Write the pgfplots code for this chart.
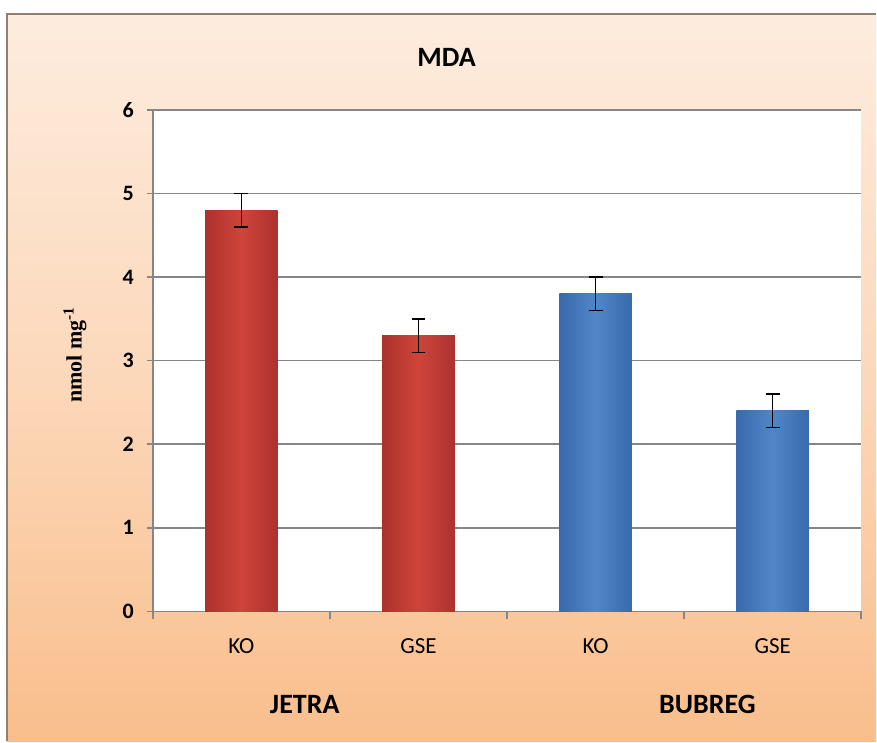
\documentclass[border=0pt]{standalone}
\usepackage{pgfplots}
\pgfplotsset{compat=1.18}
\usepackage{fontspec}
\setmainfont{Carlito}
\newfontfamily\serifb{Liberation Serif}
\definecolor{bgtop}{RGB}{253,236,222}
\definecolor{bgmid}{RGB}{252,216,186}
\definecolor{bgbot}{RGB}{249,190,140}
\definecolor{redE}{RGB}{172,50,45}
\definecolor{redM}{RGB}{206,68,58}
\definecolor{bluE}{RGB}{56,106,172}
\definecolor{bluM}{RGB}{80,134,200}
\definecolor{axgray}{RGB}{134,134,134}
\begin{document}
\begin{tikzpicture}
\fill[white] (0pt,0pt) rectangle (438.5pt,-371pt);
\shade[top color=bgtop, bottom color=bgbot, middle color=bgmid] (3.5pt,-7pt) rectangle (438.5pt,-371pt);
\draw[gray!80!brown, line width=0.8pt] (3.5pt,-371pt) -- (3.5pt,-7pt) -- (438.5pt,-7pt);
\begin{axis}[
  at={(76.5pt,-306pt)}, anchor=south west,
  scale only axis, width=354.5pt, height=251pt,
  xmin=-0.5, xmax=3.5, ymin=0, ymax=6,
  ytick={0,1,2,3,4,5,6},
  xtick={0,1,2,3}, xticklabels={KO,GSE,KO,GSE},
  minor xtick={-0.5,0.5,1.5,2.5,3.5},
  axis x line*=bottom, axis y line*=left,
  axis background/.style={fill=white},
  axis line style={draw=axgray, line width=0.8pt},
  ymajorgrids, grid style={axgray, line width=0.8pt},
  tick align=outside, tick style={axgray, line width=0.8pt},
  major tick length=3pt, minor tick length=4pt,
  every major x tick/.append style={draw=none},
  /pgf/number format/assume math mode=true,
  yticklabel style={font=\fontsize{11}{13}\selectfont\bfseries, xshift=-3pt},
  xticklabel style={font=\fontsize{11.5}{13}\selectfont, yshift=-7pt},
  clip=false,
]
\addplot[ybar, bar width=0.41, bar shift=0pt, draw=none, left color=redE, right color=redE, middle color=redM,
  error bars/.cd, y dir=both, y explicit, error bar style={black, line width=0.8pt},
  error mark options={rotate=90, mark size=3.5pt, black, line width=0.8pt}]
  coordinates {(0,4.8) +- (0,0.2)};
\addplot[ybar, bar width=0.41, bar shift=0pt, draw=none, left color=redE, right color=redE, middle color=redM,
  error bars/.cd, y dir=both, y explicit, error bar style={black, line width=0.8pt},
  error mark options={rotate=90, mark size=3.5pt, black, line width=0.8pt}]
  coordinates {(1,3.3) +- (0,0.2)};
\addplot[ybar, bar width=0.41, bar shift=0pt, draw=none, left color=bluE, right color=bluE, middle color=bluM,
  error bars/.cd, y dir=both, y explicit, error bar style={black, line width=0.8pt},
  error mark options={rotate=90, mark size=3.5pt, black, line width=0.8pt}]
  coordinates {(2,3.8) +- (0,0.2)};
\addplot[ybar, bar width=0.41, bar shift=0pt, draw=none, left color=bluE, right color=bluE, middle color=bluM,
  error bars/.cd, y dir=both, y explicit, error bar style={black, line width=0.8pt},
  error mark options={rotate=90, mark size=3.5pt, black, line width=0.8pt}]
  coordinates {(3,2.4) +- (0,0.2)};
\end{axis}
\node[font=\fontsize{14}{16}\selectfont\bfseries] at (223.5pt,-28.5pt) {MDA};
\node[font=\fontsize{14}{16}\selectfont\bfseries] at (152.5pt,-352.5pt) {JETRA};
\node[font=\fontsize{14}{16}\selectfont\bfseries] at (354pt,-352.5pt) {BUBREG};
\node[rotate=90, font=\serifb\fontsize{11}{13}\selectfont\bfseries] at (37.5pt,-177.5pt) {nmol mg\textsuperscript{-1}};
\end{tikzpicture}
\end{document}
